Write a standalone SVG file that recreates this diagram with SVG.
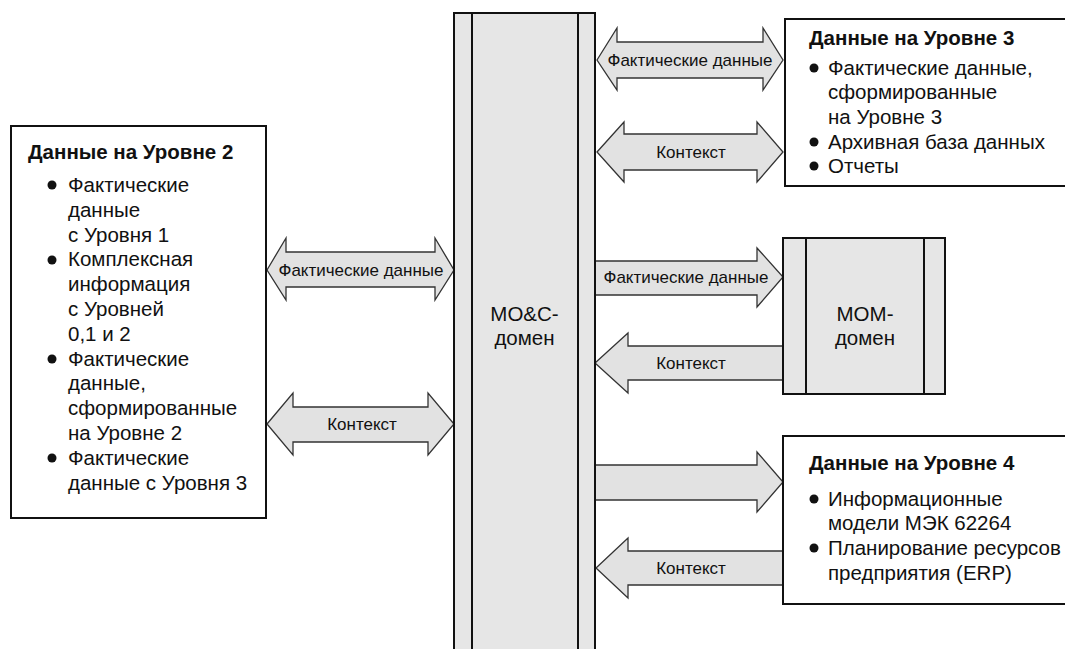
<svg xmlns="http://www.w3.org/2000/svg" width="1065" height="649" viewBox="0 0 1065 649">
<style>
.box{fill:#ffffff;stroke:#111;stroke-width:2}
.dom{fill:#e6e6e6;stroke:#111;stroke-width:2}
.ln{stroke:#111;stroke-width:2}
.arr{fill:#e2e2e2;stroke:#333;stroke-width:1.3;stroke-linejoin:miter}
.t{font-family:"Liberation Sans",Arial,sans-serif;fill:#111}
.title{font-size:20.5px;font-weight:bold}
.body{font-size:20.5px}
.lbl{font-size:17px;text-anchor:middle}
.dl{font-size:20.5px;text-anchor:middle}
</style>
<rect width="1065" height="649" fill="#ffffff"/>

<g id="connectors">
  <path class="arr" d="M597,60 L617,28 L617,42 L763,42 L763,28 L783,60 L763,90 L763,78 L617,78 L617,90 Z"/>
  <text class="t lbl" x="690" y="66">Фактические данные</text>
  <path class="arr" d="M597,152 L624,122 L624,134 L757,134 L757,122 L783,152 L757,182 L757,170 L624,170 L624,182 Z"/>
  <text class="t lbl" x="691" y="158">Контекст</text>
  <path class="arr" d="M267,270 L286,238 L286,252 L435,252 L435,238 L454,270 L435,300 L435,287 L286,287 L286,300 Z"/>
  <text class="t lbl" x="361" y="276">Фактические данные</text>
  <path class="arr" d="M267,424 L293,393 L293,407 L428,407 L428,393 L454,424 L428,455 L428,442 L293,442 L293,455 Z"/>
  <text class="t lbl" x="362" y="430">Контекст</text>
  <path class="arr" d="M595,261 L757,261 L757,248 L783,277 L757,307 L757,295 L595,295"/>
  <text class="t lbl" x="686" y="283">Фактические данные</text>
  <path class="arr" d="M783,346 L628,346 L628,333 L595,363 L628,393 L628,380 L783,380"/>
  <text class="t lbl" x="691" y="369">Контекст</text>
  <path class="arr" d="M595,465 L757,465 L757,452 L783,482 L757,512 L757,500 L595,500"/>
  <path class="arr" d="M783,551 L628,551 L628,538 L596,568 L628,598 L628,585 L783,585"/>
  <text class="t lbl" x="691" y="574">Контекст</text>
</g>

<g id="moc-domain">
  <rect class="dom" x="454" y="13" width="141" height="650"/>
  <line class="ln" x1="472" y1="13" x2="472" y2="663"/>
  <line class="ln" x1="578" y1="13" x2="578" y2="663"/>
  <text class="t dl" x="524.5" y="321">MO&amp;C-</text>
  <text class="t dl" x="524.5" y="345">домен</text>
</g>

<g id="mom-domain">
  <rect class="dom" x="783" y="238" width="162" height="156"/>
  <line class="ln" x1="806" y1="238" x2="806" y2="394"/>
  <line class="ln" x1="924" y1="238" x2="924" y2="394"/>
  <text class="t dl" x="865" y="321">МОМ-</text>
  <text class="t dl" x="865" y="345">домен</text>
</g>

<g id="level2">
  <rect class="box" x="11" y="126" width="255" height="392"/>
  <text class="t title" x="28" y="159">Данные на Уровне 2</text>
  <g fill="#111">
    <circle cx="52" cy="185" r="4.5"/>
    <circle cx="52" cy="260" r="4.5"/>
    <circle cx="52" cy="359" r="4.5"/>
    <circle cx="52" cy="458" r="4.5"/>
  </g>
  <text class="t body" x="68" y="192">Фактические</text>
  <text class="t body" x="68" y="217">данные</text>
  <text class="t body" x="68" y="242">с Уровня 1</text>
  <text class="t body" x="68" y="266">Комплексная</text>
  <text class="t body" x="68" y="291">информация</text>
  <text class="t body" x="68" y="316">с Уровней</text>
  <text class="t body" x="68" y="341">0,1 и 2</text>
  <text class="t body" x="68" y="366">Фактические</text>
  <text class="t body" x="68" y="390">данные,</text>
  <text class="t body" x="68" y="415">сформированные</text>
  <text class="t body" x="68" y="440">на Уровне 2</text>
  <text class="t body" x="68" y="465">Фактические</text>
  <text class="t body" x="68" y="490">данные с Уровня 3</text>
</g>

<g id="level3">
  <rect class="box" x="785" y="19" width="290" height="167"/>
  <text class="t title" x="809" y="45">Данные на Уровне 3</text>
  <g fill="#111">
    <circle cx="814" cy="68" r="4.5"/>
    <circle cx="814" cy="142" r="4.5"/>
    <circle cx="814" cy="166" r="4.5"/>
  </g>
  <text class="t body" x="828" y="75">Фактические данные,</text>
  <text class="t body" x="828" y="99">сформированные</text>
  <text class="t body" x="828" y="124">на Уровне 3</text>
  <text class="t body" x="828" y="149">Архивная база данных</text>
  <text class="t body" x="828" y="173">Отчеты</text>
</g>

<g id="level4">
  <rect class="box" x="783" y="436" width="292" height="168"/>
  <text class="t title" x="809" y="470">Данные на Уровне 4</text>
  <g fill="#111">
    <circle cx="814" cy="499" r="4.5"/>
    <circle cx="814" cy="548" r="4.5"/>
  </g>
  <text class="t body" x="828" y="506">Информационные</text>
  <text class="t body" x="828" y="530">модели МЭК 62264</text>
  <text class="t body" x="828" y="555">Планирование ресурсов</text>
  <text class="t body" x="828" y="580">предприятия (ERP)</text>
</g>
</svg>
